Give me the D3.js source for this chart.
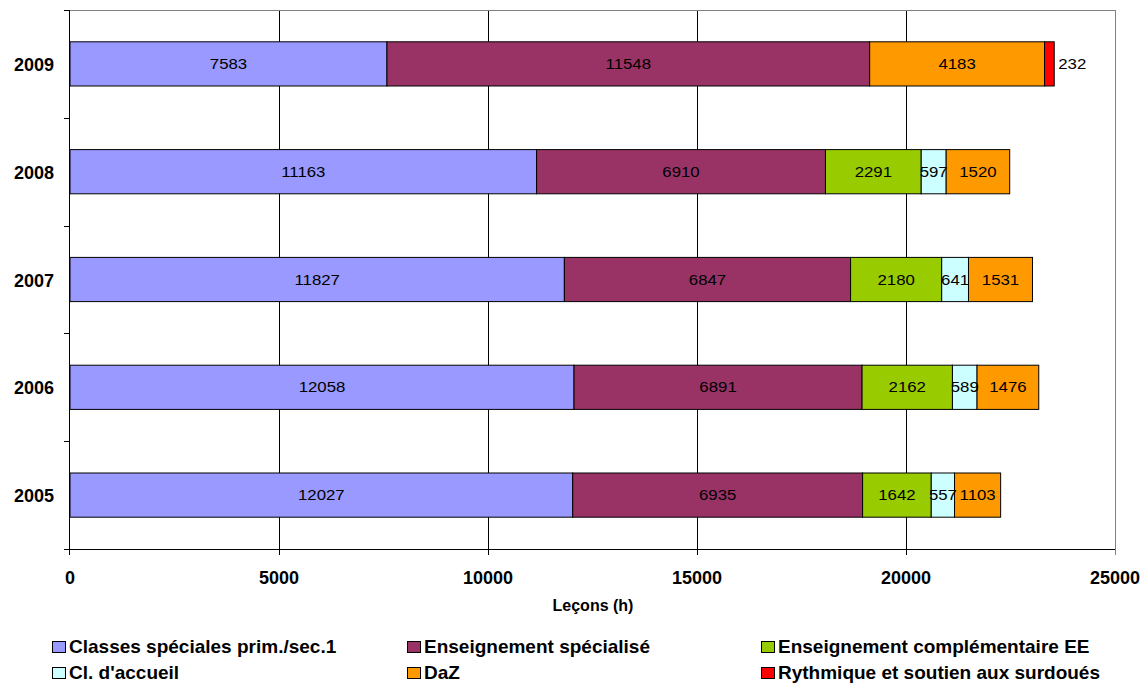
<!DOCTYPE html>
<html>
<head>
<meta charset="utf-8">
<script src="https://cdn.jsdelivr.net/npm/d3@7"></script>
<style>
  body { margin: 0; background: #fff; }
  text { font-family: Arial, "Liberation Sans", sans-serif; }
</style>
</head>
<body>
<div id="chart"></div>
<script>
// data
var years = ["2009", "2008", "2007", "2006", "2005"];
var seriesNames = ["Classes spéciales prim./sec.1", "Enseignement spécialisé", "Enseignement complémentaire EE",
  "Cl. d'accueil", "DaZ", "Rythmique et soutien aux surdoués"];
var seriesColors = ["#9999FF", "#993366", "#99CC00", "#CCFFFF", "#FF9900", "#FF0000"];
var classes   = [7583, 11163, 11827, 12058, 12027];
var enseign   = [11548, 6910, 6847, 6891, 6935];
var complem   = [0, 2291, 2180, 2162, 1642];
var accueil   = [0, 597, 641, 589, 557];
var daz       = [4183, 1520, 1531, 1476, 1103];
var rythmique = [232, 0, 0, 0, 0];
var xTicks = [0, 5000, 10000, 15000, 20000, 25000];
var xTitle = "Leçons (h)";

var series = [classes, enseign, complem, accueil, daz, rythmique];

var W = 1143, H = 683;
var pLeft = 70, pRight = 1115, pTop = 10, pBottom = 549;

var svg = d3.select("#chart").append("svg")
  .attr("width", W)
  .attr("height", H);

var x = d3.scaleLinear().domain([0, 25000]).range([pLeft, pRight]);
var y = d3.scaleBand().domain(years).range([pTop, pBottom])
  .paddingInner(0.59).paddingOuter(0.295);

// gridlines
svg.selectAll(".grid")
  .data(xTicks.slice(1, -1))
  .enter().append("line")
    .attr("x1", function(d) { return Math.round(x(d)) + 0.5; })
    .attr("x2", function(d) { return Math.round(x(d)) + 0.5; })
    .attr("y1", pTop).attr("y2", pBottom + 6)
    .style("stroke", "#000").style("stroke-width", 1);

// plot border (top / right gray)
svg.append("line").attr("x1", pLeft).attr("x2", pRight).attr("y1", pTop + 0.5).attr("y2", pTop + 0.5)
  .style("stroke", "#808080");
svg.append("line").attr("x1", pRight + 0.5).attr("x2", pRight + 0.5).attr("y1", pTop).attr("y2", pBottom + 6)
  .style("stroke", "#808080");

// stacked rows
var rows = years.map(function(yr, i) {
  var acc = 0;
  return series.map(function(s, k) {
    var seg = { year: yr, k: k, x0: acc, x1: acc + s[i], v: s[i] };
    acc += s[i];
    return seg;
  }).filter(function(d) { return d.v > 0; });
});
var segs = [].concat.apply([], rows);

svg.selectAll(".seg")
  .data(segs)
  .enter().append("rect")
    .attr("class", "seg")
    .attr("x", function(d) { return x(d.x0); })
    .attr("y", function(d) { return y(d.year); })
    .attr("width", function(d) { return x(d.x1) - x(d.x0); })
    .attr("height", y.bandwidth())
    .style("fill", function(d) { return seriesColors[d.k]; })
    .style("stroke", "#000")
    .style("stroke-width", 1);

// value labels
svg.selectAll(".val")
  .data(segs)
  .enter().append("text")
    .attr("class", "val")
    .attr("transform", function(d) {
      var cx = d.k == 5 ? x(d.x1) + 4 : (x(d.x0) + x(d.x1)) / 2;
      return "translate(" + cx + "," + (y(d.year) + y.bandwidth() / 2 + 5) + ") scale(1.2,1)";
    })
    .style("text-anchor", function(d) { return d.k == 5 ? "start" : "middle"; })
    .style("font-size", "14px")
    .style("fill", "#000")
    .text(function(d) { return d.v; });

// axes
svg.append("line").attr("x1", pLeft - 0.5).attr("x2", pLeft - 0.5).attr("y1", pTop).attr("y2", pBottom + 6)
  .style("stroke", "#000");
svg.append("line").attr("x1", pLeft - 6).attr("x2", pRight).attr("y1", pBottom + 0.5).attr("y2", pBottom + 0.5)
  .style("stroke", "#000");

// y ticks at band boundaries
var bounds = d3.range(years.length + 1).map(function(i) { return pTop + i * y.step(); });
svg.selectAll(".ytick")
  .data(bounds)
  .enter().append("line")
    .attr("x1", pLeft - 6).attr("x2", pLeft)
    .attr("y1", function(d) { return Math.round(d) + 0.5; })
    .attr("y2", function(d) { return Math.round(d) + 0.5; })
    .style("stroke", "#000");

svg.selectAll(".ylab")
  .data(years)
  .enter().append("text")
    .attr("x", 54)
    .attr("y", function(d) { return y(d) + y.bandwidth() / 2 + 7; })
    .style("text-anchor", "end")
    .style("font-size", "18px")
    .style("font-weight", "bold")
    .text(function(d) { return d; });

svg.selectAll(".xlab")
  .data(xTicks)
  .enter().append("text")
    .attr("x", function(d) { return x(d); })
    .attr("y", 584)
    .style("text-anchor", "middle")
    .style("font-size", "18px")
    .style("font-weight", "bold")
    .text(function(d) { return d; });

svg.append("text")
  .attr("x", 593).attr("y", 611)
  .style("text-anchor", "middle")
  .style("font-size", "16px")
  .style("font-weight", "bold")
  .text(xTitle);

// legend
var colX = [52, 407, 761];
var rowY = [653, 679];
var legend = svg.selectAll(".leg")
  .data(seriesNames)
  .enter().append("g")
    .attr("class", "leg")
    .attr("transform", function(d, i) { return "translate(" + colX[i % 3] + "," + rowY[Math.floor(i / 3)] + ")"; });
legend.append("rect")
  .attr("x", 0.5).attr("y", -11.5)
  .attr("width", 13).attr("height", 11)
  .style("fill", function(d, i) { return seriesColors[i]; })
  .style("stroke", "#000");
legend.append("text")
  .attr("x", 17).attr("y", 0)
  .style("font-size", "19px")
  .style("font-weight", "bold")
  .text(function(d) { return d; });
</script>
</body>
</html>
